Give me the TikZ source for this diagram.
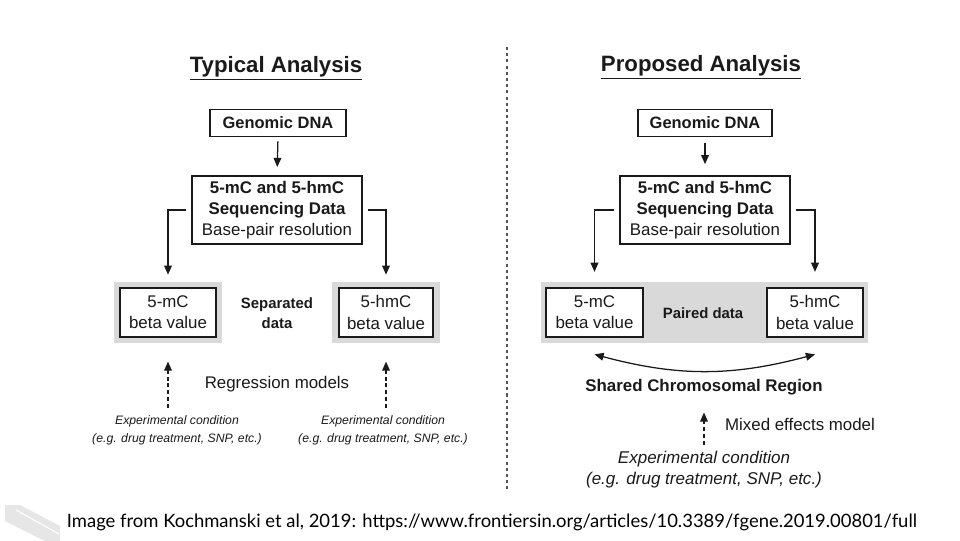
\documentclass[tikz,border=0pt]{standalone}
\usepackage{fontspec}
\setmainfont{Liberation Sans}
\newfontfamily\captionfont{Lato}
\usetikzlibrary{arrows.meta}
\definecolor{Ink}{HTML}{1A1A1A}
\definecolor{Panel}{HTML}{D9D9D9}
\definecolor{Divider}{HTML}{555555}
\definecolor{Logo}{HTML}{E6E6E6}

\begin{document}
\begin{tikzpicture}[
  x=0.025cm,y=-0.025cm,>={Triangle[length=6.5pt,width=5.5pt]},
  title/.style={text=Ink,font=\bfseries\fontsize{15.8}{19}\selectfont},
  box/.style={draw=Ink,line width=0.8pt,fill=white,align=center,inner sep=0pt,text=Ink,font=\fontsize{12}{15}\selectfont},
  panel/.style={fill=Panel,inner sep=0pt,minimum height=1.525cm},
  tag/.style={text=Ink,align=center,font=\bfseries\fontsize{10.6}{14}\selectfont},
  note/.style={text=Ink,align=center,font=\fontsize{12}{15}\selectfont},
  cond/.style={text=Ink,align=center,font=\itshape\fontsize{8.7}{12.8}\selectfont},
  flow/.style={->,draw=Ink,line width=0.9pt},
  model/.style={->,draw=Ink,line width=0.9pt,dash pattern=on 2.8pt off 2pt}
]
  \useasboundingbox (0,0) rectangle (960,540);

  % left panel: typical analysis
  \node[title] (titleL) at (276,68) {\underline{Typical Analysis}};
  \node[box,font=\bfseries\fontsize{11.7}{14}\selectfont,minimum width=3.4cm,minimum height=0.675cm] (dnaL) at (278,123) {Genomic DNA};
  \node[box,minimum width=4.25cm,minimum height=1.7cm] (seqL) at (277,210) {\textbf{5-mC and 5-hmC}\\\textbf{Sequencing Data}\\Base-pair resolution};
  \node[panel,minimum width=2.675cm] (greyL1) at (168,312.5) {};
  \node[panel,minimum width=2.7cm] (greyL2) at (386,312.5) {};
  \node[box,minimum width=2.4cm,minimum height=1.225cm] (mcL) at (greyL1) {5-mC\\beta value};
  \node[box,minimum width=2.35cm,minimum height=1.225cm] (hmcL) at (greyL2) {5-hmC\\beta value};
  \node[tag] (sepL) at (277,313) {Separated\\data};
  \node[note] (regL) at (277,384) {Regression models};
  \node[cond] (expL1) at (177,430) {Experimental condition\\(e.g. drug treatment, SNP, etc.)};
  \node[cond] (expL2) at (383,430) {Experimental condition\\(e.g. drug treatment, SNP, etc.)};

  \draw[flow,shorten <=3pt,shorten >=6pt] (dnaL.south) -- (seqL.north);
  \draw[flow,shorten <=4pt,shorten >=5pt] (seqL.west) -| (greyL1.north);
  \draw[flow,shorten <=4pt,shorten >=5pt] (seqL.east) -| (greyL2.north);
  \draw[model,shorten <=2pt,shorten >=13pt] (greyL1.south |- expL1.north) -- (greyL1.south);
  \draw[model,shorten <=2pt,shorten >=13pt] (greyL2.south |- expL2.north) -- (greyL2.south);

  % divider
  \draw[Divider,line width=0.9pt,dash pattern=on 2.2pt off 2.2pt] (507,47) -- (507,492);

  % right panel: proposed analysis
  \node[title] (titleR) at (701,67) {\underline{Proposed Analysis}};
  \node[box,font=\bfseries\fontsize{11.7}{14}\selectfont,minimum width=3.35cm,minimum height=0.675cm] (dnaR) at (705,123) {Genomic DNA};
  \node[box,minimum width=4.25cm,minimum height=1.7cm] (seqR) at (705,210) {\textbf{5-mC and 5-hmC}\\\textbf{Sequencing Data}\\Base-pair resolution};
  \node[panel,minimum width=8.175cm] (band) at (704.5,312.5) {};
  \node[box,minimum width=2.425cm,minimum height=1.225cm] (mcR) at (594.5,312.5) {5-mC\\beta value};
  \node[box,minimum width=2.4cm,minimum height=1.225cm] (hmcR) at (815,312.5) {5-hmC\\beta value};
  \node[tag] (paired) at (703,313) {Paired data};
  \node[note,font=\bfseries\fontsize{12}{15}\selectfont] (shared) at (704,387) {Shared Chromosomal Region};
  \node[note] (mixed) at (800,424) {Mixed effects model};
  \node[cond,font=\itshape\fontsize{12.1}{15}\selectfont] (expR) at (704,469.5) {Experimental condition\\(e.g. drug treatment, SNP, etc.)};

  \draw[flow,shorten <=4pt,shorten >=8pt] (dnaR.south) -- (seqR.north);
  \draw[flow,shorten <=4pt,shorten >=7pt] (seqR.west) -| (mcR.north |- band.north);
  \draw[flow,shorten <=4pt,shorten >=7pt] (seqR.east) -| (hmcR.north |- band.north);
  \draw[<->,draw=Ink,line width=0.9pt] ([yshift=-0.42cm]mcR.south) to[bend right=15] ([yshift=-0.42cm]hmcR.south);
  \draw[model,shorten <=1pt,shorten >=9pt] (expR.north) -- (shared.south);

  % footer
  \fill[Logo] (5,505) -- (20,505) -- (60,526) -- (60,541) -- (45,541) -- (5,521) -- cycle;
  \draw[white,line width=0.8pt] (16,510) -- (59,534);
  \node[text=black,font=\captionfont\fontsize{13.1}{16}\selectfont] (source) at (492,522) {Image from Kochmanski et al, 2019: https://www.frontiersin.org/articles/10.3389/fgene.2019.00801/full};
\end{tikzpicture}
\end{document}
